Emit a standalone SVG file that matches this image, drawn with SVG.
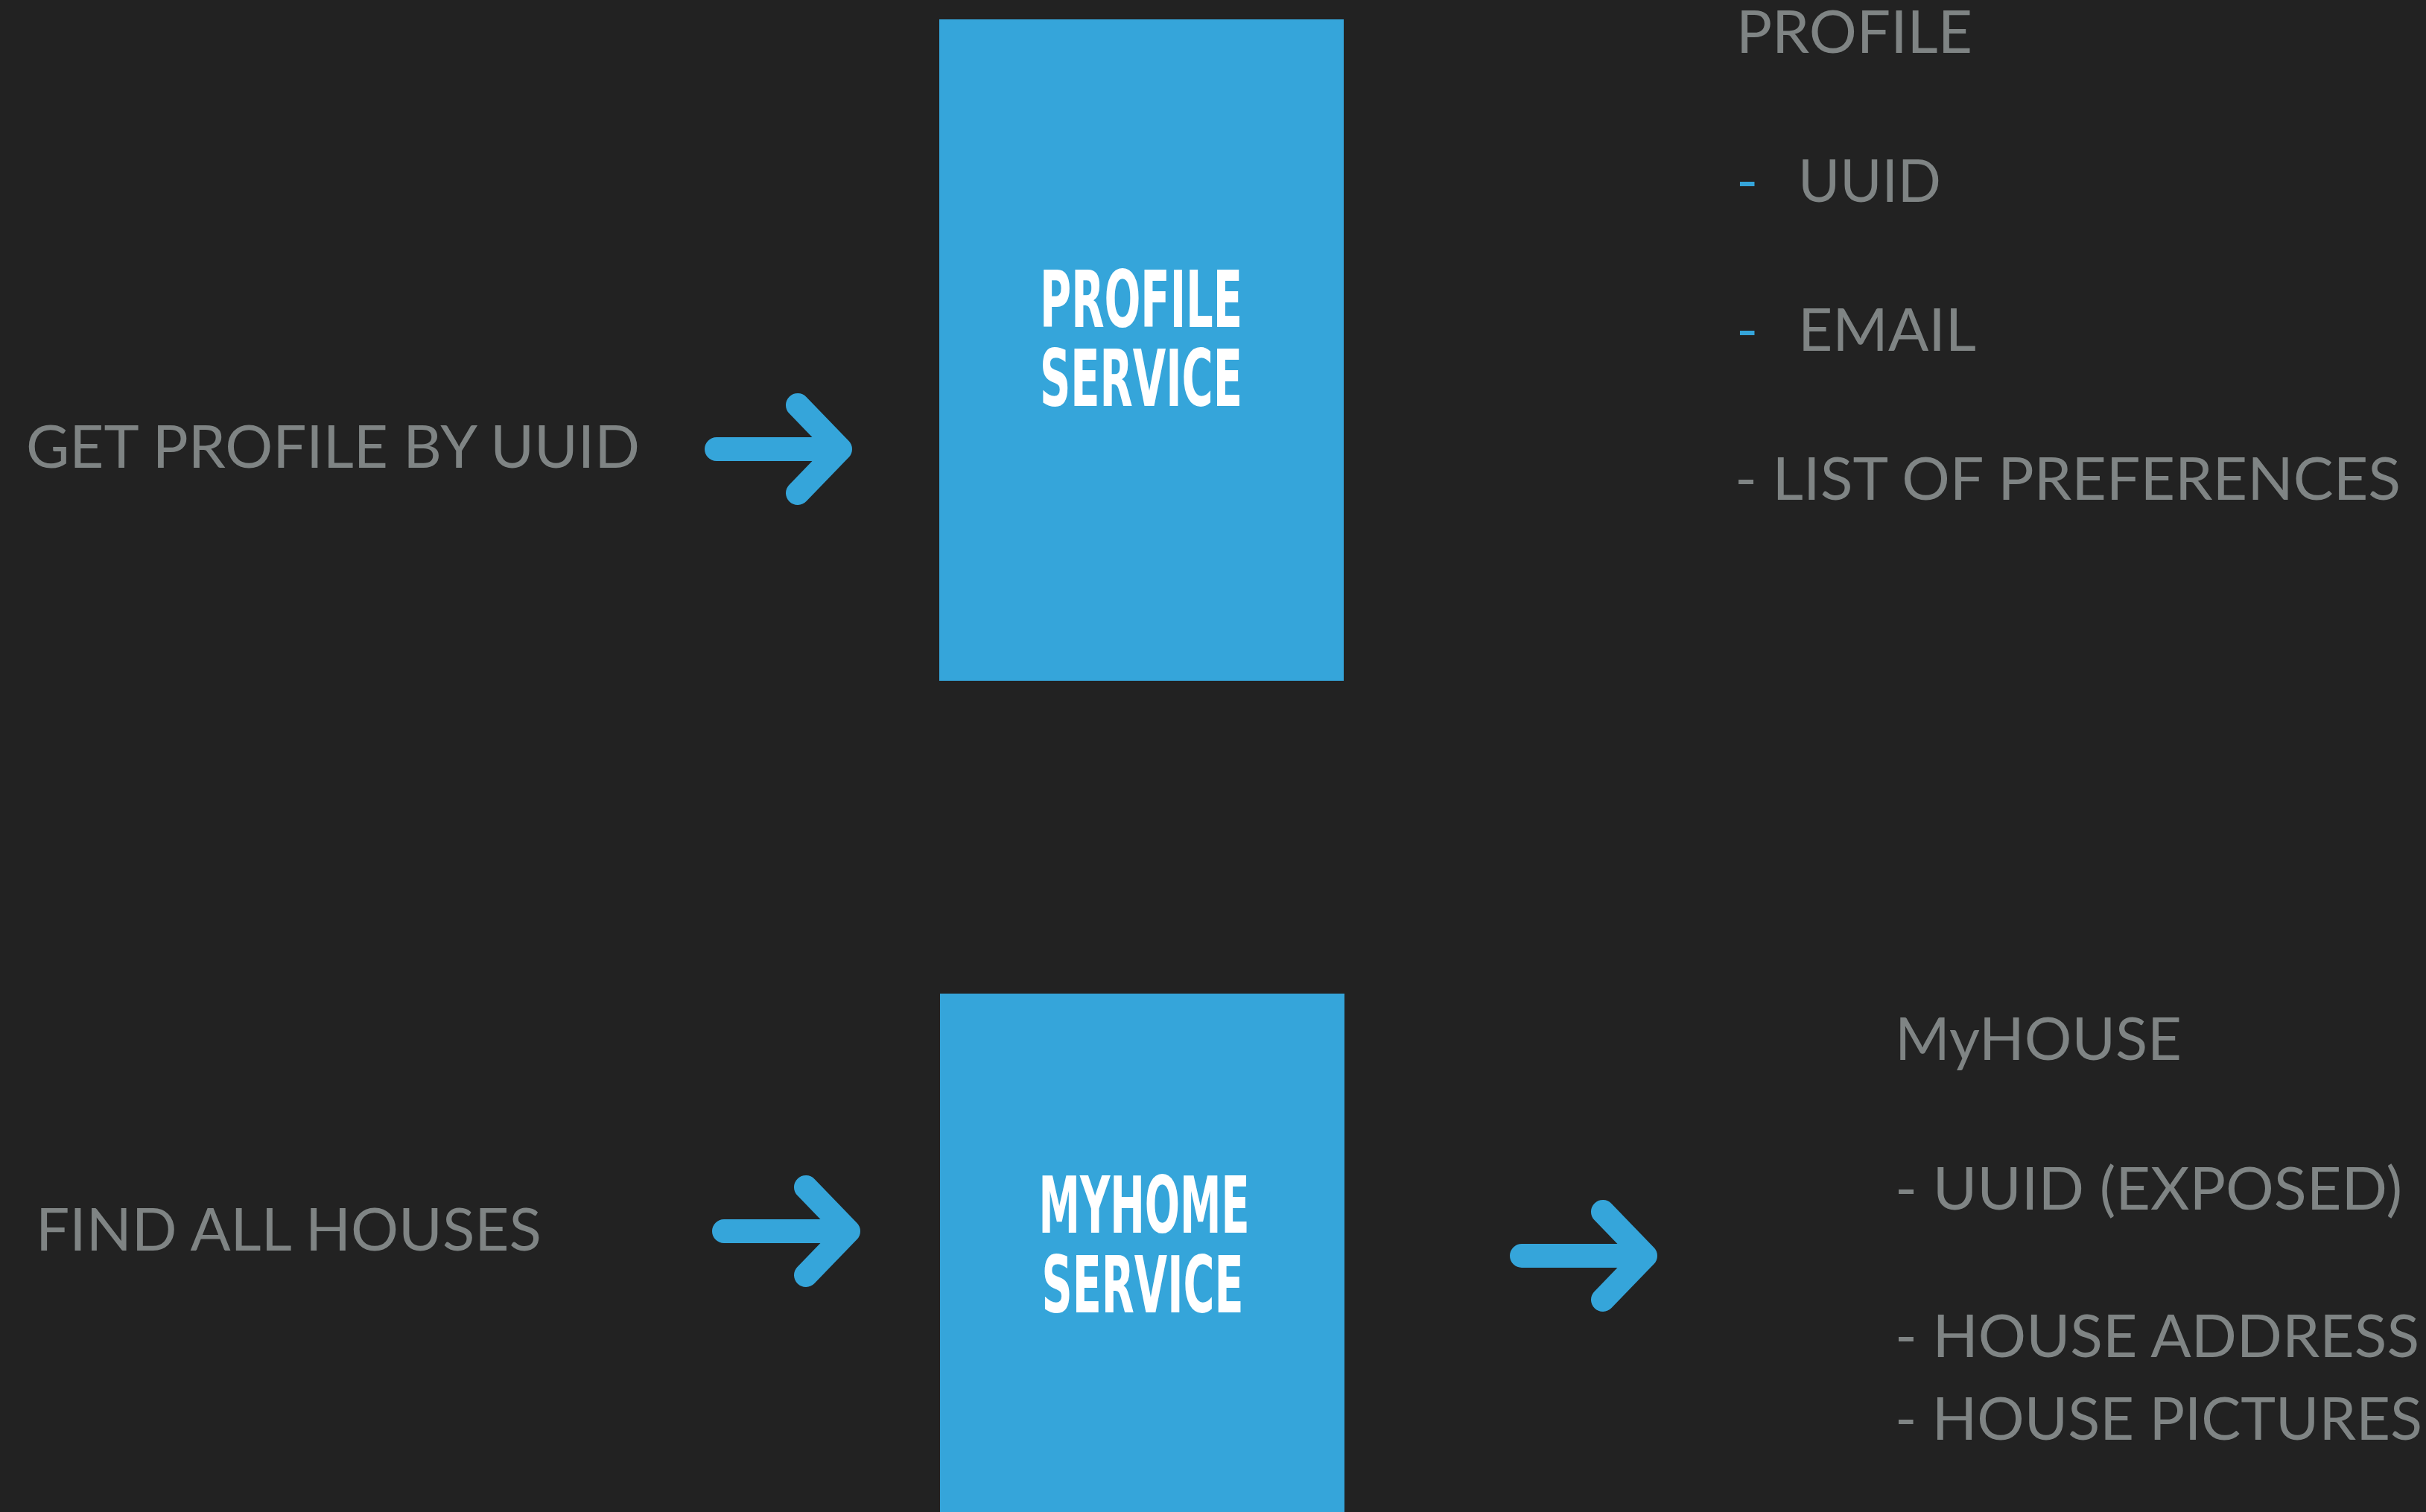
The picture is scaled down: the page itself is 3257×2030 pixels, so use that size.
<svg xmlns="http://www.w3.org/2000/svg" width="3257" height="2030" viewBox="0 0 3257 2030">
<style>
.bg{fill:#222222}
.box{fill:#35a5da}
.title{fill:#ffffff;font-family:"DejaVu Sans Condensed","Liberation Sans Narrow","Liberation Sans",sans-serif;font-weight:bold;font-size:106px;text-anchor:middle}
.lbl{fill:#7f8484;font-family:Lato,"Noto Sans","Liberation Sans",sans-serif;font-size:79px}
.dash{fill:#35a5da;font-family:Lato,"Noto Sans","Liberation Sans",sans-serif;font-size:79px}
.arrow{fill:none;stroke:#35a5da;stroke-width:32;stroke-linecap:round;stroke-linejoin:round}
</style>
<rect class="bg" x="0" y="0" width="3257" height="2030"/>
<g id="profile-service">
<rect class="box" x="1261" y="26" width="543" height="888"/>
<text class="title" x="1532" y="439" textLength="272" lengthAdjust="spacingAndGlyphs">PROFILE</text>
<text class="title" x="1532" y="545" textLength="272" lengthAdjust="spacingAndGlyphs">SERVICE</text>
</g>
<g id="myhome-service">
<rect class="box" x="1262" y="1334" width="543" height="700"/>
<text class="title" x="1536" y="1655" textLength="283" lengthAdjust="spacingAndGlyphs">MYHOME</text>
<text class="title" x="1534" y="1762" textLength="271" lengthAdjust="spacingAndGlyphs">SERVICE</text>
</g>
<g id="get-profile">
<text class="lbl" x="35" y="628" textLength="824" lengthAdjust="spacingAndGlyphs">GET PROFILE BY UUID</text>
</g>
<g id="find-houses">
<text class="lbl" x="48" y="1679" textLength="679" lengthAdjust="spacingAndGlyphs">FIND ALL HOUSES</text>
</g>
<g id="profile-model">
<text class="lbl" x="2331" y="71" textLength="317" lengthAdjust="spacingAndGlyphs">PROFILE</text>
<text class="dash" x="2331" y="271">-</text>
<text class="lbl" x="2414" y="271" textLength="192" lengthAdjust="spacingAndGlyphs">UUID</text>
<text class="dash" x="2331" y="471">-</text>
<text class="lbl" x="2414" y="471" textLength="239" lengthAdjust="spacingAndGlyphs">EMAIL</text>
<text class="lbl" x="2329" y="671" textLength="894" lengthAdjust="spacingAndGlyphs">- LIST OF PREFERENCES</text>
</g>
<g id="myhouse-model">
<text class="lbl" x="2544" y="1423" textLength="385" lengthAdjust="spacingAndGlyphs">MyHOUSE</text>
<text class="lbl" x="2544" y="1624" textLength="681" lengthAdjust="spacingAndGlyphs">- UUID (EXPOSED)</text>
<text class="lbl" x="2544" y="1822" textLength="704" lengthAdjust="spacingAndGlyphs">- HOUSE ADDRESS</text>
<text class="lbl" x="2544" y="1933" textLength="708" lengthAdjust="spacingAndGlyphs">- HOUSE PICTURES</text>
</g>
<g id="connectors">
<path class="arrow" d="M962 603 H1128 M1071 544 L1128 603 L1071 662"/>
<path class="arrow" d="M972 1653 H1139 M1082 1594 L1139 1653 L1082 1712"/>
<path class="arrow" d="M2043 1686 H2209 M2152 1627 L2209 1686 L2152 1745"/>
</g>
</svg>
